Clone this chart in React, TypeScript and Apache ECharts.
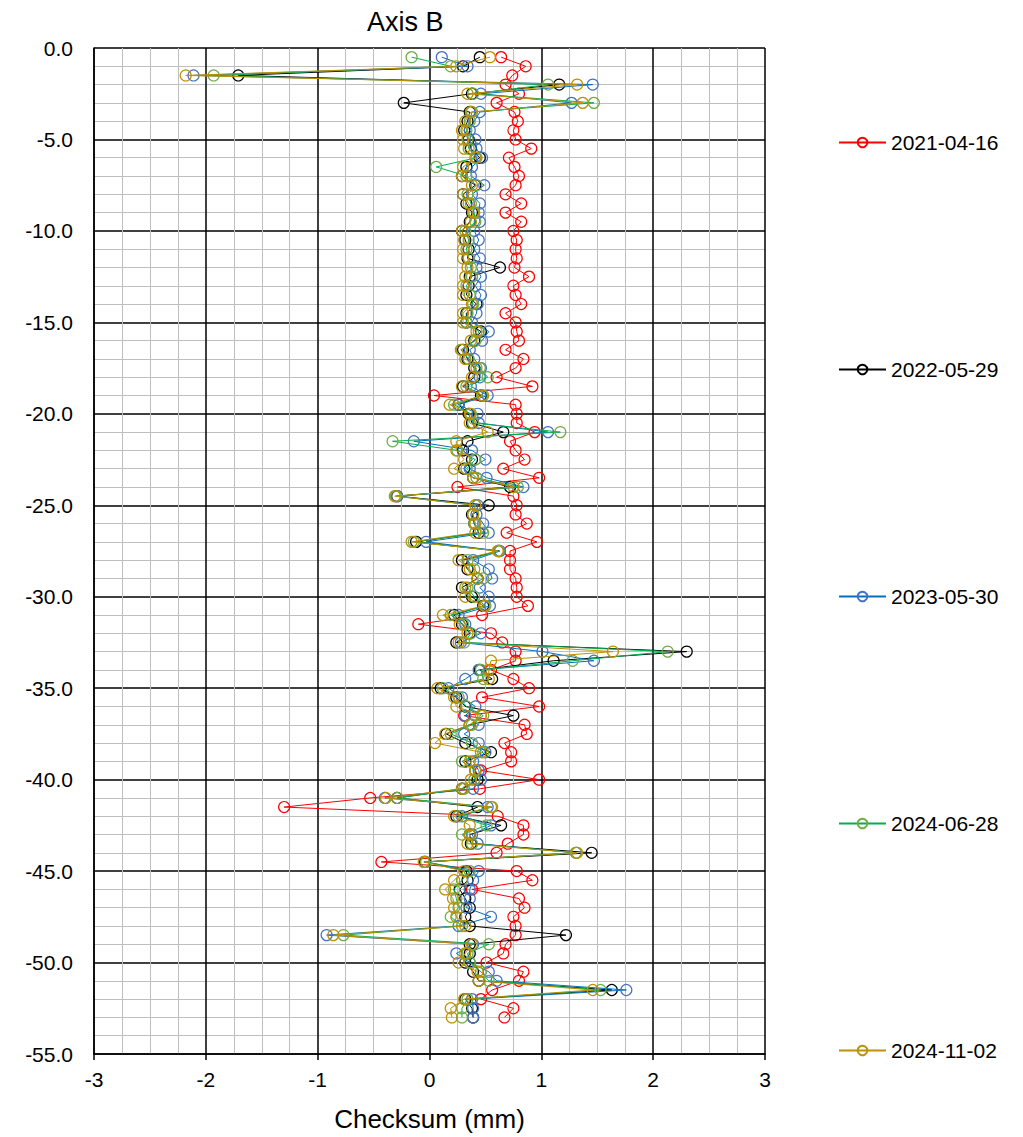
import React, { useEffect, useRef } from "react";
import * as echarts from "echarts";

const depths = [
  -0.5, -1.0, -1.5, -2.0, -2.5, -3.0, -3.5, -4.0, -4.5, -5.0,
  -5.5, -6.0, -6.5, -7.0, -7.5, -8.0, -8.5, -9.0, -9.5, -10.0,
  -10.5, -11.0, -11.5, -12.0, -12.5, -13.0, -13.5, -14.0, -14.5, -15.0,
  -15.5, -16.0, -16.5, -17.0, -17.5, -18.0, -18.5, -19.0, -19.5, -20.0,
  -20.5, -21.0, -21.5, -22.0, -22.5, -23.0, -23.5, -24.0, -24.5, -25.0,
  -25.5, -26.0, -26.5, -27.0, -27.5, -28.0, -28.5, -29.0, -29.5, -30.0,
  -30.5, -31.0, -31.5, -32.0, -32.5, -33.0, -33.5, -34.0, -34.5, -35.0,
  -35.5, -36.0, -36.5, -37.0, -37.5, -38.0, -38.5, -39.0, -39.5, -40.0,
  -40.5, -41.0, -41.5, -42.0, -42.5, -43.0, -43.5, -44.0, -44.5, -45.0,
  -45.5, -46.0, -46.5, -47.0, -47.5, -48.0, -48.5, -49.0, -49.5, -50.0,
  -50.5, -51.0, -51.5, -52.0, -52.5, -53.0,
];

const s2021 = [
  0.64, 0.86, 0.74, 0.68, 0.80, 0.60, 0.76, 0.79, 0.75, 0.77,
  0.91, 0.71, 0.76, 0.80, 0.77, 0.68, 0.82, 0.68, 0.82, 0.75,
  0.78, 0.77, 0.78, 0.76, 0.89, 0.75, 0.77, 0.82, 0.68, 0.77,
  0.78, 0.80, 0.68, 0.84, 0.77, 0.60, 0.92, 0.04, 0.77, 0.78,
  0.78, 0.94, 0.72, 0.77, 0.85, 0.66, 0.98, 0.25, 0.75, 0.78,
  0.77, 0.87, 0.69, 0.96, 0.72, 0.72, 0.72, 0.77, 0.78, 0.78,
  0.88, 0.47, -0.10, 0.55, 0.65, 0.77, 0.77, 0.55, 0.75, 0.89,
  0.47, 0.98, 0.31, 0.85, 0.87, 0.67, 0.73, 0.73, 0.46, 0.98,
  0.45, -0.53, -1.30, 0.61, 0.84, 0.84, 0.70, 0.60, -0.43, 0.78,
  0.92, 0.38, 0.80, 0.85, 0.75, 0.77, 0.77, 0.68, 0.66, 0.51,
  0.84, 0.80, 0.56, 0.46, 0.75, 0.67,
];

const s2022 = [
  0.45, 0.30, -1.71, 1.16, 0.38, -0.23, 0.36, 0.34, 0.31, 0.35,
  0.37, 0.45, 0.33, 0.29, 0.41, 0.30, 0.33, 0.38, 0.36, 0.29,
  0.32, 0.35, 0.34, 0.63, 0.36, 0.35, 0.33, 0.42, 0.33, 0.33,
  0.46, 0.40, 0.30, 0.34, 0.40, 0.40, 0.30, 0.46, 0.26, 0.35,
  0.38, 0.66, 0.34, 0.30, 0.38, 0.31, 0.39, 0.72, -0.29, 0.53,
  0.38, 0.40, 0.44, -0.12, 0.62, 0.29, 0.34, 0.43, 0.29, 0.38,
  0.48, 0.22, 0.29, 0.36, 0.24, 2.30, 1.11, 0.45, 0.56, 0.10,
  0.24, 0.32, 0.75, 0.36, 0.15, 0.32, 0.55, 0.32, 0.41, 0.43,
  0.29, -0.29, 0.43, 0.24, 0.64, 0.36, 0.37, 1.45, -0.04, 0.33,
  0.34, 0.27, 0.32, 0.36, 0.32, 0.36, 1.22, 0.36, 0.36, 0.32,
  0.39, 0.44, 1.63, 0.32, 0.38, 0.39,
];

const s2023 = [
  0.11, 0.34, -2.11, 1.46, 0.46, 1.27, 0.45, 0.40, 0.36, 0.41,
  0.42, 0.47, 0.38, 0.37, 0.49, 0.38, 0.45, 0.44, 0.45, 0.40,
  0.44, 0.40, 0.45, 0.42, 0.46, 0.41, 0.46, 0.43, 0.42, 0.38,
  0.53, 0.47, 0.36, 0.40, 0.46, 0.45, 0.37, 0.52, 0.26, 0.43,
  0.44, 1.06, -0.14, 0.38, 0.50, 0.36, 0.51, 0.84, -0.29, 0.43,
  0.42, 0.48, 0.53, -0.03, 0.63, 0.39, 0.53, 0.56, 0.45, 0.53,
  0.54, 0.26, 0.32, 0.46, 0.28, 1.01, 1.47, 0.44, 0.32, 0.17,
  0.29, 0.41, 0.32, 0.44, 0.31, 0.44, 0.50, 0.39, 0.44, 0.46,
  0.39, -0.40, 0.52, 0.29, 0.55, 0.38, 0.43, 1.31, -0.05, 0.44,
  0.39, 0.36, 0.36, 0.33, 0.55, 0.26, -0.92, 0.39, 0.24, 0.36,
  0.53, 0.60, 1.76, 0.38, 0.39, 0.39,
];

const s2024a = [
  -0.16, 0.19, -1.93, 1.06, 0.39, 1.47, 0.38, 0.36, 0.33, 0.34,
  0.35, 0.42, 0.06, 0.33, 0.42, 0.34, 0.37, 0.40, 0.41, 0.32,
  0.35, 0.33, 0.35, 0.37, 0.38, 0.33, 0.36, 0.39, 0.34, 0.33,
  0.44, 0.41, 0.28, 0.35, 0.45, 0.52, 0.33, 0.47, 0.22, 0.37,
  0.39, 1.17, -0.33, 0.25, 0.41, 0.33, 0.42, 0.79, -0.30, 0.41,
  0.39, 0.40, 0.48, -0.14, 0.62, 0.34, 0.40, 0.48, 0.34, 0.40,
  0.50, 0.19, 0.30, 0.37, 0.31, 2.13, 1.28, 0.46, 0.48, 0.12,
  0.26, 0.33, 0.48, 0.38, 0.19, 0.38, 0.48, 0.29, 0.41, 0.40,
  0.31, -0.29, 0.56, 0.26, 0.51, 0.29, 0.38, 1.31, -0.03, 0.36,
  0.29, 0.22, 0.24, 0.26, 0.19, 0.29, -0.77, 0.53, 0.34, 0.36,
  0.46, 0.53, 1.53, 0.34, 0.29, 0.29,
];

const s2024b = [
  0.54, 0.24, -2.18, 1.32, 0.34, 1.37, 0.37, 0.32, 0.29, 0.30,
  0.31, 0.41, 0.30, 0.29, 0.38, 0.30, 0.35, 0.39, 0.37, 0.29,
  0.31, 0.30, 0.30, 0.34, 0.32, 0.30, 0.30, 0.38, 0.30, 0.30,
  0.42, 0.37, 0.29, 0.32, 0.42, 0.38, 0.29, 0.48, 0.18, 0.36,
  0.36, 0.52, 0.24, 0.24, 0.31, 0.22, 0.39, 0.75, -0.31, 0.41,
  0.39, 0.41, 0.41, -0.16, 0.61, 0.26, 0.36, 0.43, 0.32, 0.32,
  0.49, 0.12, 0.27, 0.34, 0.26, 1.64, 0.55, 0.53, 0.53, 0.07,
  0.22, 0.24, 0.46, 0.36, 0.14, 0.05, 0.46, 0.36, 0.41, 0.37,
  0.29, -0.39, 0.55, 0.22, 0.36, 0.36, 0.34, 1.32, -0.05, 0.31,
  0.22, 0.14, 0.21, 0.22, 0.24, 0.32, -0.86, 0.38, 0.32, 0.26,
  0.43, 0.44, 1.46, 0.31, 0.19, 0.20,
];

const seriesNames = ["2021-04-16", "2022-05-29", "2023-05-30", "2024-06-28", "2024-11-02"];
const seriesValues = [s2021, s2022, s2023, s2024a, s2024b];
const lineColors = ["#FF0000", "#000000", "#0070C0", "#00B050", "#BF9000"];
const markerColors = ["#FF0000", "#000000", "#4472C4", "#70AD47", "#BF9000"];
const legendCenters = [139, 366, 593, 820, 1047];

const FONT = "'Liberation Sans', Arial, sans-serif";

export default function App() {
  const ref = useRef<HTMLDivElement>(null);

  useEffect(() => {
    document.body.style.margin = "0";
    if (!ref.current) return;
    const chart = echarts.init(ref.current, null, { renderer: "svg" });

    const series = seriesNames.map((name, si) => ({
      name,
      type: "line",
      data: depths.map((d, i) => [seriesValues[si][i], d]),
      symbol: "circle",
      symbolSize: 11,
      showAllSymbol: true,
      color: lineColors[si],
      lineStyle: { color: lineColors[si], width: 1 },
      itemStyle: { color: "rgba(0,0,0,0)", borderColor: markerColors[si], borderWidth: 1.2 },
      emphasis: { disabled: true },
      z: 2 + si,
    }));

    const legends = seriesNames.map((name, i) => ({
      data: [name],
      orient: "vertical",
      left: 833,
      top: legendCenters[i] - 12,
      itemWidth: 47,
      itemHeight: 12,
      selectedMode: false,
      textStyle: { fontFamily: FONT, fontSize: 21, color: "#000" },
    }));

    chart.setOption({
      animation: false,
      backgroundColor: "#ffffff",
      title: {
        text: "Axis B",
        left: 362,
        top: 3,
        textStyle: { fontFamily: FONT, fontSize: 27, fontWeight: "normal", color: "#000" },
      },
      legend: legends,
      grid: { left: 94, top: 48, right: 258, bottom: 81, containLabel: false },
      xAxis: {
        type: "value",
        min: -3,
        max: 3,
        interval: 1,
        name: "Checksum (mm)",
        nameLocation: "middle",
        nameGap: 52,
        nameTextStyle: { fontFamily: FONT, fontSize: 26, color: "#000" },
        axisLine: { show: true, onZero: false, lineStyle: { color: "#000", width: 1.5 } },
        axisTick: { show: true, inside: false, length: 6, lineStyle: { color: "#000", width: 1.5 } },
        axisLabel: { fontFamily: FONT, fontSize: 21, color: "#000", margin: 15 },
        splitLine: { show: true, lineStyle: { color: "#000", width: 1.5 } },
        minorTick: { show: false, splitNumber: 4 },
        minorSplitLine: { show: true, lineStyle: { color: "#BFBFBF", width: 1 } },
      },
      yAxis: {
        type: "value",
        min: -55,
        max: 0,
        interval: 5,
        axisLine: { show: true, onZero: false, lineStyle: { color: "#000", width: 1.5 } },
        axisTick: { show: false },
        axisLabel: {
          fontFamily: FONT,
          fontSize: 21,
          color: "#000",
          margin: 21,
          formatter: (v: number) => v.toFixed(1),
        },
        splitLine: { show: true, lineStyle: { color: "#000", width: 1.5 } },
        minorTick: { show: false, splitNumber: 5 },
        minorSplitLine: { show: true, lineStyle: { color: "#BFBFBF", width: 1 } },
      },
      series,
    });

    return () => chart.dispose();
  }, []);

  return <div ref={ref} style={{ width: 1023, height: 1137 }} />;
}
